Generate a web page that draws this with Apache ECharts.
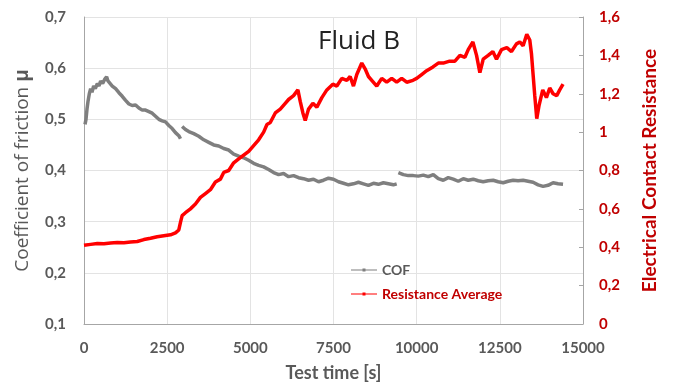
<!DOCTYPE html>
<html><head><meta charset="utf-8">
<script src="https://cdn.jsdelivr.net/npm/echarts@6/dist/echarts.min.js"></script>
<style>html,body{margin:0;padding:0;background:#fff}#c{width:674px;height:387px}</style>
</head><body><div id="c"></div>
<script>
const xTicks = [0, 2500, 5000, 7500, 10000, 12500, 15000];
const cofTime = [30,60,90,120,160,200,240,290,340,400,450,500,560,620,680,720,780,850,950,1050,1150,1250,1350,1450,1550,1650,1750,1850,1950,2050,2150,2250,2350,2450,2550,2650,2750,2850,2900,2925,
2950,3050,3150,3300,3450,3600,3750,3900,4050,4200,4350,4500,4650,4800,4950,5100,5250,5400,5550,5700,5850,6000,6150,6300,6450,6600,6750,6900,7050,7200,7350,7500,7650,7800,7950,8100,8250,8400,8550,8700,8850,9000,9150,9300,9400,9425,
9450,9600,9750,9900,10050,10200,10350,10500,10650,10800,10950,11100,11250,11400,11550,11700,11850,12000,12150,12300,12450,12600,12750,12900,13050,13200,13350,13500,13650,13800,13950,14100,14250,14400];
const cofValue = [0.490,0.500,0.520,0.535,0.550,0.560,0.553,0.565,0.560,0.570,0.565,0.575,0.570,0.578,0.583,0.575,0.572,0.565,0.560,0.552,0.545,0.537,0.530,0.527,0.528,0.522,0.518,0.518,0.515,0.512,0.506,0.500,0.497,0.495,0.488,0.482,0.474,0.468,0.462,null,
0.486,0.480,0.476,0.472,0.467,0.460,0.455,0.450,0.448,0.443,0.440,0.432,0.428,0.425,0.420,0.414,0.410,0.407,0.402,0.396,0.392,0.394,0.388,0.390,0.386,0.384,0.381,0.383,0.378,0.381,0.385,0.383,0.378,0.375,0.372,0.374,0.377,0.374,0.371,0.375,0.373,0.376,0.374,0.372,0.374,null,
0.396,0.392,0.390,0.390,0.389,0.391,0.388,0.392,0.384,0.381,0.386,0.383,0.379,0.384,0.381,0.383,0.380,0.378,0.380,0.381,0.378,0.376,0.379,0.381,0.380,0.381,0.379,0.377,0.372,0.369,0.371,0.376,0.374,0.373];
const resTime = [0,200,400,600,800,1000,1200,1400,1600,1800,2000,2200,2400,2600,2750,2850,2900,2950,3050,3200,3350,3500,3650,3800,3950,4100,4200,4350,4500,4650,4800,4950,5100,5250,5400,5500,5600,5750,5900,6050,6150,6300,6430,6500,6580,6650,6750,6880,7000,7150,7300,7480,7600,7750,7900,8000,8100,8200,8350,8450,8550,8650,8800,8950,9100,9250,9400,9550,9700,9890,10000,10150,10300,10490,10650,10800,10990,11150,11300,11450,11550,11690,11800,11900,12000,12150,12290,12400,12550,12710,12850,13000,13100,13200,13310,13400,13450,13500,13550,13610,13680,13790,13900,14000,14100,14210,14300,14400];
const resValue = [0.41,0.415,0.42,0.418,0.422,0.425,0.423,0.427,0.43,0.44,0.447,0.455,0.46,0.465,0.475,0.49,0.53,0.565,0.58,0.60,0.625,0.66,0.68,0.70,0.74,0.755,0.79,0.80,0.84,0.86,0.88,0.90,0.93,0.96,1.00,1.04,1.05,1.10,1.12,1.15,1.17,1.19,1.22,1.16,1.10,1.06,1.12,1.15,1.13,1.18,1.22,1.25,1.24,1.28,1.27,1.29,1.24,1.30,1.36,1.33,1.29,1.27,1.24,1.28,1.26,1.28,1.26,1.28,1.26,1.27,1.28,1.30,1.32,1.34,1.36,1.36,1.37,1.37,1.40,1.39,1.43,1.47,1.40,1.31,1.38,1.40,1.42,1.38,1.43,1.44,1.42,1.46,1.47,1.45,1.51,1.48,1.41,1.30,1.19,1.07,1.14,1.22,1.18,1.23,1.20,1.19,1.22,1.25];

const fmt = v => String(Math.round(v * 10) / 10).replace('.', ',');
const FONT = 'Lato, "Open Sans", sans-serif';
const ICON = 'path://M0,1h26v1H0z M11.5,0h3v3h-3z';
const chart = echarts.init(document.getElementById('c'), null, {renderer: 'canvas'});
chart.setOption({
  animation: false,
  backgroundColor: '#fff',
  title: {text: 'Fluid B', left: 313, top: 24, textStyle: {fontFamily: '"Open Sans", sans-serif', fontSize: 26, fontWeight: 'normal', color: '#222'}},
  legend: {
    orient: 'vertical', left: 346, top: 258, itemGap: 10, itemWidth: 26, itemHeight: 3,
    icon: ICON,
    data: [
      {name: 'COF', textStyle: {color: '#595959', fontWeight: 'bold', fontSize: 14, fontFamily: FONT}},
      {name: 'Resistance Average', textStyle: {color: '#c00000', fontWeight: 'bold', fontSize: 14, fontFamily: FONT}}
    ]
  },
  grid: {left: 84, right: 91, top: 17, bottom: 60},
  xAxis: {
    type: 'value', min: 0, max: 15000, interval: 2500,
    name: 'Test time [s]', nameLocation: 'middle', nameGap: 40,
    nameTextStyle: {color: '#595959', fontWeight: 'bold', fontSize: 18, fontFamily: FONT},
    axisLine: {show: true, lineStyle: {color: '#a6a6a6'}}, axisTick: {show: false},
    axisLabel: {color: '#595959', fontWeight: 'bold', fontSize: 15, fontFamily: FONT, margin: 17,
      formatter: v => xTicks.includes(v) ? String(v) : ''},
    splitLine: {show: true, lineStyle: {color: '#e3e3e3'}}
  },
  yAxis: [
    {
      type: 'value', min: 0.1, max: 0.7, interval: 0.1, position: 'left',
      name: 'Coefficient of friction {b|μ}', nameLocation: 'middle', nameGap: 52,
      nameTextStyle: {color: '#595959', fontSize: 19, fontFamily: '"Open Sans", sans-serif',
        rich: {b: {fontWeight: 'bold', fontSize: 19, color: '#595959', fontFamily: '"Open Sans", sans-serif'}}},
      axisLine: {show: true, lineStyle: {color: '#a6a6a6'}}, axisTick: {show: false},
      axisLabel: {color: '#595959', fontWeight: 'bold', fontSize: 15, fontFamily: FONT, margin: 18, formatter: fmt},
      splitLine: {show: true, lineStyle: {color: '#e3e3e3'}}
    },
    {
      type: 'value', min: 0, max: 1.6, interval: 0.2, position: 'right',
      name: 'Electrical Contact Resistance', nameLocation: 'middle', nameGap: 57,
      nameTextStyle: {color: '#c00000', fontWeight: 'bold', fontSize: 19, fontFamily: FONT},
      axisLine: {show: true, lineStyle: {color: '#a6a6a6'}},
      axisTick: {show: true, inside: true, length: 4, lineStyle: {color: '#a6a6a6'}},
      axisLabel: {color: '#c00000', fontWeight: 'bold', fontSize: 15, fontFamily: FONT, margin: 16, formatter: fmt},
      splitLine: {show: false}
    }
  ],
  series: [
    {
      name: 'COF', type: 'line', yAxisIndex: 0, showSymbol: false, symbol: 'circle', symbolSize: 4,
      connectNulls: false, lineStyle: {color: '#7f7f7f', width: 3.5}, itemStyle: {color: '#7f7f7f'},
      data: cofTime.map((t, i) => [t, cofValue[i]])
    },
    {
      name: 'Resistance Average', type: 'line', yAxisIndex: 1, showSymbol: false, symbol: 'circle', symbolSize: 4,
      lineStyle: {color: '#ff0000', width: 3.5}, itemStyle: {color: '#ff0000'},
      data: resTime.map((t, i) => [t, resValue[i]])
    }
  ]
});
</script></body></html>
